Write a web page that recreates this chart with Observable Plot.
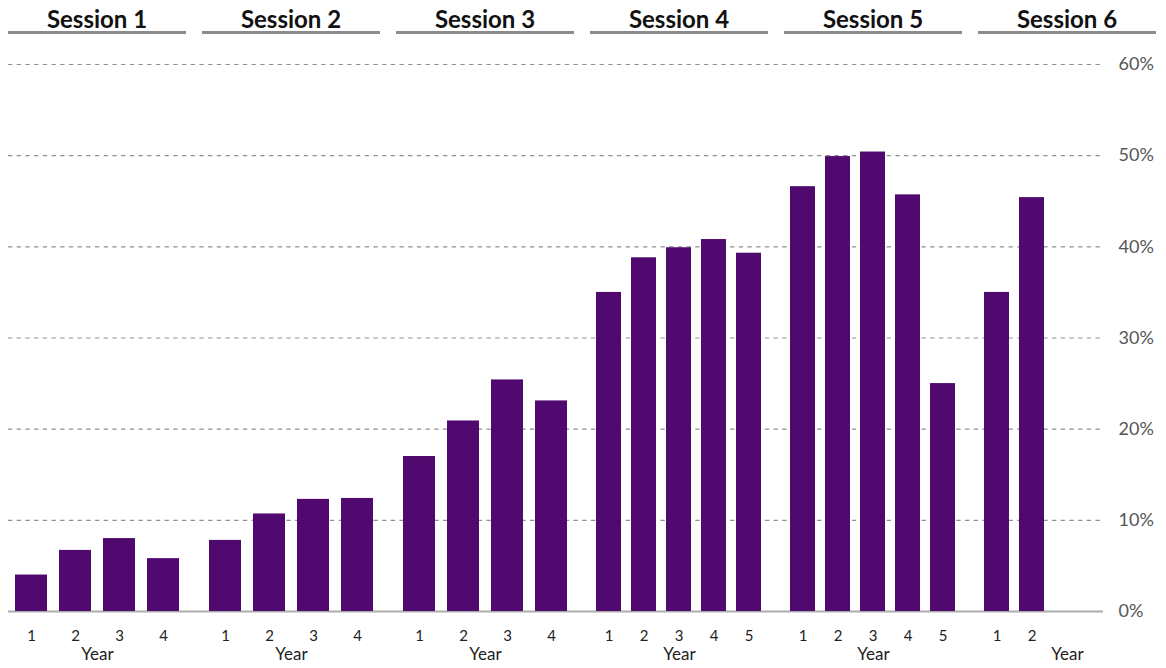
<!DOCTYPE html>
<html>
<head>
<meta charset="utf-8">
<script src="https://cdn.jsdelivr.net/npm/d3@7"></script>
<script src="https://cdn.jsdelivr.net/npm/@observablehq/plot@0.6"></script>
<style>
  body { margin: 0; background: #fff; }
  #chart { position: relative; width: 1166px; height: 668px; font-family: Lato, sans-serif; }
  .layer { position: absolute; top: 0; }
  .hdr { position: absolute; top: 0; height: 31px; line-height: 37px; border-bottom: 3px solid #8c8c8c;
         text-align: center; font-family: Lato, sans-serif; font-weight: 700; font-size: 24px; color: #111; }
</style>
</head>
<body>
<div id="chart"></div>
<script>
// ---- data ----
const sessions = ["Session 1", "Session 2", "Session 3", "Session 4", "Session 5", "Session 6"];
const session1 = [4.0, 6.7, 8.0, 5.8];
const session2 = [7.8, 10.7, 12.3, 12.4];
const session3 = [17.0, 20.9, 25.4, 23.1];
const session4 = [35.0, 38.8, 39.9, 40.8, 39.3];
const session5 = [46.6, 49.9, 50.4, 45.7, 25.0];
const session6 = [35.0, 45.4];
const yTicks = [0, 10, 20, 30, 40, 50, 60];
const yearSlots = [4, 4, 4, 5, 5, 5];   // year columns reserved per session
const xLabel = "Year";

const sessionValues = [session1, session2, session3, session4, session5, session6];

// ---- layout ----
const W = 1166, H = 668;
const mTop = 64, mBottom = 57;
const panelLeft = 8, panelW = 178, panelStep = 194;
const barColor = "#500a6f";
const chart = document.getElementById("chart");

// background: gridlines, baseline, y axis
const bg = Plot.plot({
  width: W, height: H,
  marginTop: mTop, marginBottom: mBottom, marginLeft: 8, marginRight: 63,
  style: { background: "transparent", fontFamily: "Lato, sans-serif" },
  y: { domain: [0, 60], axis: null },
  marks: [
    Plot.ruleY(yTicks.filter(d => d > 0), { stroke: "#8f8f8f", strokeWidth: 1.2, strokeDasharray: "4.3,4.4" }),
    Plot.ruleY([0], { stroke: "#ababab", strokeWidth: 2 }),
    Plot.axisY({ anchor: "right", ticks: yTicks, tickSize: 0, tickPadding: 15, label: null,
                 tickFormat: d => d + "%", fontSize: 18, fill: "#555" })
  ]
});
bg.classList.add("layer");
bg.style.left = "0px";
chart.appendChild(bg);

// panels
sessions.forEach((name, i) => {
  const vals = sessionValues[i];
  const rows = vals.map((v, j) => ({ year: j + 1, value: v }));
  const p = Plot.plot({
    width: panelW, height: H,
    marginTop: mTop, marginBottom: mBottom, marginLeft: 0, marginRight: 0,
    style: { background: "transparent", fontFamily: "Lato, sans-serif", overflow: "visible" },
    x: { type: "band", domain: d3.range(1, yearSlots[i] + 1), paddingInner: 0.28, paddingOuter: 0.16 },
    y: { domain: [0, 60], axis: null },
    marks: [
      Plot.barY(rows, { x: "year", y: "value", fill: barColor }),
      Plot.axisX({ ticks: rows.map(d => d.year), tickSize: 0, tickPadding: 19, label: null,
                   fontSize: 15, fill: "#222" }),
      Plot.text([xLabel], { frameAnchor: "bottom", dy: 48, fontSize: 17, fill: "#222" })
    ]
  });
  p.classList.add("layer");
  p.style.left = (panelLeft + i * panelStep) + "px";
  chart.appendChild(p);

  const h = document.createElement("div");
  h.className = "hdr";
  h.style.left = (panelLeft + i * panelStep) + "px";
  h.style.width = panelW + "px";
  h.textContent = name;
  chart.appendChild(h);
});
</script>
</body>
</html>
